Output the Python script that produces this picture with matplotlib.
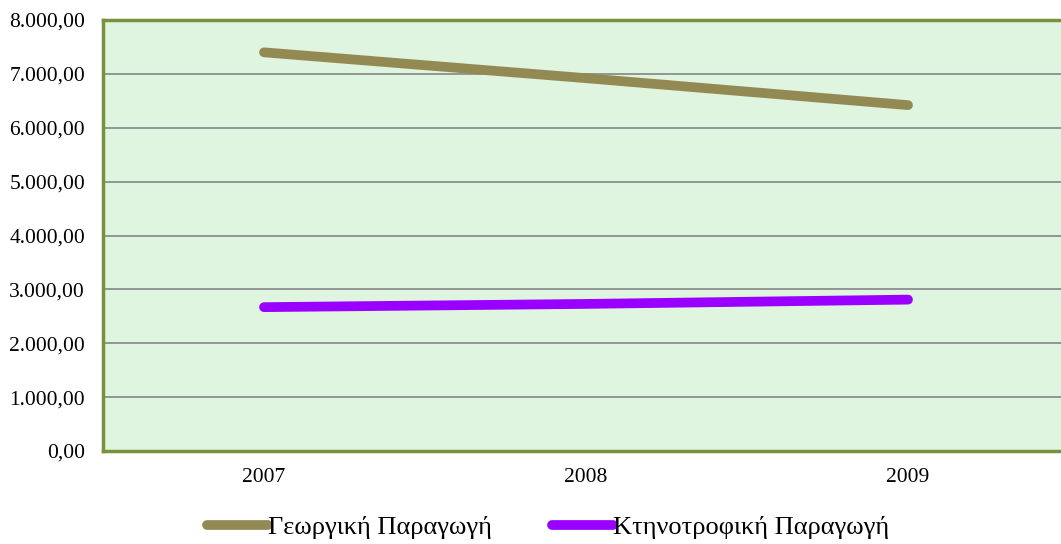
import matplotlib
matplotlib.use("Agg")
import matplotlib.pyplot as plt
from matplotlib.ticker import FuncFormatter, MultipleLocator

years = ["2007", "2008", "2009"]
georgiki = [7400, 6920, 6420]
ktinotrofiki = [2670, 2730, 2810]
labels = ["Γεωργική Παραγωγή", "Κτηνοτροφική Παραγωγή"]

plt.rcParams['font.family'] = ['Liberation Serif', 'DejaVu Serif']

fig = plt.figure(figsize=(10.61, 5.44), dpi=100)
ax = fig.add_axes([103/1061, 1 - 451/544, 966/1061, 431/544])
ax.set_facecolor('#DFF5DF')

x = list(range(len(years)))
ax.plot(x, georgiki, color='#938953', lw=7, solid_capstyle='round', label=labels[0], zorder=3)
ax.plot(x, ktinotrofiki, color='#9900FF', lw=7, solid_capstyle='round', label=labels[1], zorder=3)

ax.set_xlim(-0.5, 2.5)
ax.set_ylim(0, 8000)
ax.yaxis.set_major_locator(MultipleLocator(1000))
ax.set_xticks(x)
ax.set_xticklabels(years)

def fmt(v, pos):
    s = f"{v:,.2f}"
    return s.replace(",", "X").replace(".", ",").replace("X", ".")
ax.yaxis.set_major_formatter(FuncFormatter(fmt))

ax.grid(axis='y', color='#868686', lw=1.2)
ax.set_axisbelow(True)
for side in ['left', 'bottom', 'top', 'right']:
    ax.spines[side].set_color('#77933C')
    ax.spines[side].set_linewidth(2.5)
ax.tick_params(axis='both', length=0, labelsize=15.5, colors='black')
ax.tick_params(axis='y', pad=13)
ax.tick_params(axis='x', pad=12)

fig.legend(loc='center', bbox_to_anchor=(548/1061, 1 - 527/544), ncol=2, frameon=False,
           fontsize=19, handlelength=2.3, handletextpad=0.0, columnspacing=2.3)

fig.savefig('out.png', dpi=100)
